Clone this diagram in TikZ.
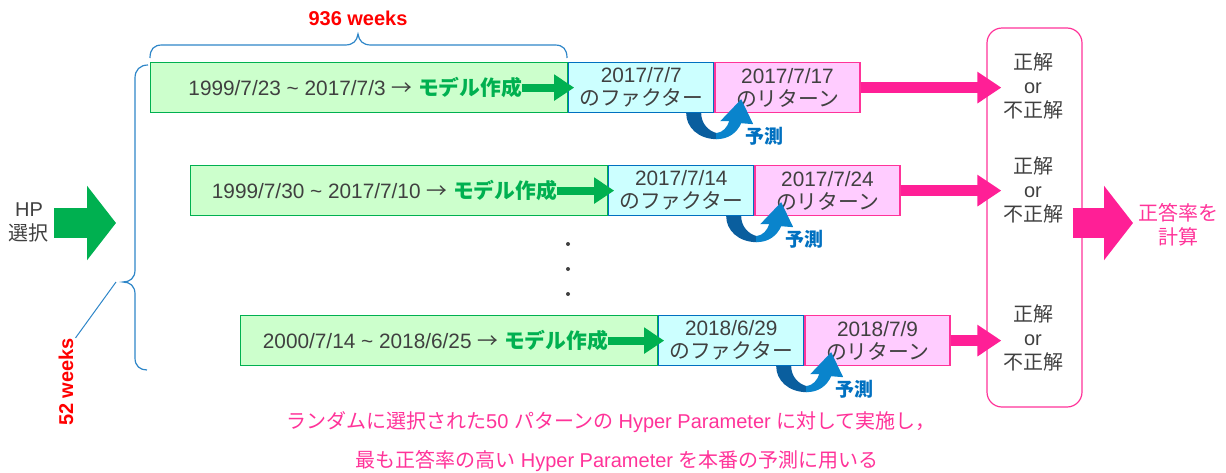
\documentclass[tikz,border=0pt]{standalone}
\usepackage{fontspec}
\setmainfont{Liberation Sans}
\newfontfamily\jp{Noto Sans CJK JP}
\usetikzlibrary{arrows.meta,calc}
\definecolor{gfill}{HTML}{CCFFCC}
\definecolor{gline}{HTML}{00B050}
\definecolor{cfill}{HTML}{CCFFFF}
\definecolor{cline}{HTML}{0070C0}
\definecolor{pfill}{HTML}{FFCCFF}
\definecolor{pline}{HTML}{FF3399}
\definecolor{parrow}{HTML}{FF1F96}
\definecolor{txt}{HTML}{404040}
\definecolor{bracec}{HTML}{2E86C8}
\definecolor{pdark}{HTML}{0A5E9E}
\definecolor{plight}{HTML}{0A84CC}
\definecolor{ptext}{HTML}{FF3399}
\definecolor{wred}{HTML}{FF0000}
\tikzset{
  box/.style={draw, line width=1.2pt, minimum height=50pt, inner sep=0pt, anchor=north west,
    text=txt, align=center, font=\fontsize{20.8}{23}\selectfont},
  trainbox/.style={box, fill=gfill, draw=gline, minimum width=417pt},
  factbox/.style={box, fill=cfill, draw=cline, minimum width=145pt, anchor=west},
  retbox/.style={box, fill=pfill, draw=pline, minimum width=145pt, anchor=west},
  gtext/.style={inner sep=0pt, text=txt, anchor=east, font=\fontsize{20.8}{23}\selectfont},
  garrow/.style={draw=gline, line width=8pt, -{Triangle[width=25pt,length=20pt]}, shorten >=-6pt},
  parr/.style={draw=parrow, line width=11pt, -{Triangle[width=30pt,length=24pt]}, shorten >=-15pt},
  bigarr/.style={line width=30pt, -{Triangle[width=73pt,length=29pt]}},
  rtext/.style={text=txt, align=center, inner sep=0pt, font=\fontsize{20}{24}\selectfont},
  weeks/.style={text=wred, inner sep=0pt, font=\fontsize{20}{24}\selectfont\bfseries},
  brace/.style={draw=bracec, line width=1.2pt},
  note/.style={text=ptext, inner sep=0pt, font=\fontsize{20}{24}\selectfont},
  predtext/.style={text=cline, inner sep=0pt, font=\fontsize{19}{22}\selectfont\jp\bfseries},
  pred/.pic={
    \fill[pdark] (118,0) -- (133,0) .. controls (133,10) and (140,18) .. (149,20) -- (149,26)
      .. controls (130,26) and (118,14) .. (118,0) -- cycle;
    \fill[plight] (148,20) .. controls (155,19) and (159,14) .. (161,8) -- (152,8) -- (173,-14)
      -- (185,11) -- (173,10) .. controls (169,19) and (161,26) .. (148,26) -- cycle;
    \node[predtext] at (196,23) {予測};
  }
}
\begin{document}
\begin{tikzpicture}[x=1pt,y=-1pt]
\path[use as bounding box] (0,0) rectangle (1226,472);

% collecting box
\node[draw=pline, line width=1.2pt, rounded corners=15pt, minimum width=95pt, minimum height=379pt, inner sep=0pt] (rr) at (1034.5,217.5) {};

% row 1
\node[trainbox] (g1) at (150,62) {};
\node[factbox] (c1) at (g1.east) {2017/7/7\\{\jp のファクター}};
\node[retbox] (p1) at (c1.east) {2017/7/17\\{\jp のリターン}};
\node[gtext] (t1) at ([xshift=-46pt]g1.east) {1999/7/23 \textasciitilde{} 2017/7/3 {\jp →} {\jp\bfseries\color{gline}モデル作成}};
\draw[garrow] (t1.east) -- (c1.west);
\draw[parr] (p1.east) -- (p1.east -| rr.west);
\pic at (c1.south west) {pred};

% row 2
\node[trainbox] (g2) at (190,165) {};
\node[factbox] (c2) at (g2.east) {2017/7/14\\{\jp のファクター}};
\node[retbox] (p2) at (c2.east) {2017/7/24\\{\jp のリターン}};
\node[gtext] (t2) at ([xshift=-51pt]g2.east) {1999/7/30 \textasciitilde{} 2017/7/10 {\jp →} {\jp\bfseries\color{gline}モデル作成}};
\draw[garrow] (t2.east) -- (c2.west);
\draw[parr] (p2.east) -- (p2.east -| rr.west);
\pic at (c2.south west) {pred};

% row 3
\node[trainbox] (g3) at (240,315) {};
\node[factbox] (c3) at (g3.east) {2018/6/29\\{\jp のファクター}};
\node[retbox] (p3) at (c3.east) {2018/7/9\\{\jp のリターン}};
\node[gtext] (t3) at ([xshift=-50pt]g3.east) {2000/7/14 \textasciitilde{} 2018/6/25 {\jp →} {\jp\bfseries\color{gline}モデル作成}};
\draw[garrow] (t3.east) -- (c3.west);
\draw[parr] (p3.east) -- (p3.east -| rr.west);
\pic at (c3.south west) {pred};

% dots
\fill[txt] (568,244) circle (2pt) (568,269) circle (2pt) (568,294) circle (2pt);

% results in box
\node[rtext] (r1) at (1033,86) {{\jp 正解}\\or\\{\jp 不正解}};
\node[rtext] (r2) at (1033,189.5) {{\jp 正解}\\or\\{\jp 不正解}};
\node[rtext] (r3) at (1033,337.5) {{\jp 正解}\\or\\{\jp 不正解}};

% result arrow
\coordinate (restip) at (1133,223);
\node[text=ptext, align=center, inner sep=0pt, font=\fontsize{20}{24}\selectfont\jp] (calc) at (1178,225) {正答率を\\計算};
\draw[bigarr, draw=parrow] ($(rr.east |- restip)+(-10,0)$) -- (restip);

% HP selection
\node[rtext] (hp) at (29,222) {HP\\{\jp 選択}};
\coordinate (hptip) at (116,223);
\draw[bigarr, draw=gline] ($(hp.east |- hptip)+(5,0)$) -- (hptip);

% braces
\node[weeks] (w936) at (358,18) {936 weeks};
\draw[brace] (150,58) .. controls (150,49) and (154,45) .. (162,45) -- (345,45)
  .. controls (353,45) and (357,41) .. (358,34) .. controls (359,41) and (363,45) .. (371,45)
  -- (555,45) .. controls (563,45) and (567,49) .. (567,58);
\coordinate (btip) at (123,282);
\draw[brace] (148,65) .. controls (140,65) and (135,70) .. (135,78) -- (135,270)
  .. controls (135,278) and (130,282) .. (btip) .. controls (130,282) and (135,286) .. (135,294)
  -- (135,358) .. controls (135,366) and (140,370) .. (147,370);
\node[weeks, rotate=90] (w52) at (66,382) {52 weeks};
\draw[draw=bracec, line width=1pt] ([xshift=-7pt]btip) -- ([xshift=2pt]w52.south east);

% notes
\node[note] (n1) at (611,422) {{\jp ランダムに選択された}50 {\jp パターンの} Hyper Parameter {\jp に対して実施し，}};
\node[note] (n2) at (617,461) {{\jp 最も正答率の高い} Hyper Parameter {\jp を本番の予測に用いる}};
\end{tikzpicture}
\end{document}
